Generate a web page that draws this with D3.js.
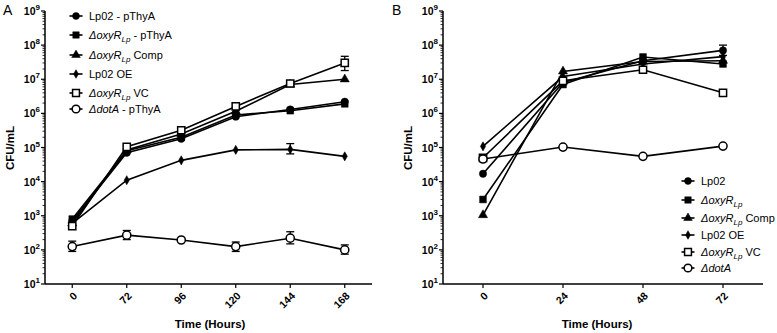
<!DOCTYPE html>
<html><head><meta charset="utf-8">
<script src="https://cdn.jsdelivr.net/npm/d3@7"></script>
<style>body{margin:0;background:#fff}svg{display:block;font-family:"Liberation Sans",Arial,sans-serif}</style>
</head><body>
<svg id="c" width="777" height="333"></svg>
<script>
// ---- data ----
const hoursA = ["0","72","96","120","144","168"];
const hoursB = ["0","24","48","72"];
const yExponents = [1,2,3,4,5,6,7,8,9];

const seriesNamesA = ["Lp02 - pThyA","ΔoxyR - pThyA","ΔoxyR Comp","Lp02 OE","ΔoxyR VC","ΔdotA - pThyA"];
const seriesNamesB = ["Lp02","ΔoxyR","ΔoxyR Comp","Lp02 OE","ΔoxyR VC","ΔdotA"];
const markerKinds = ["circle","square","triangle","diamond","openSquare","openCircle"];

const a_lp02   = [700, 7.0e4, 1.8e5, 8.0e5, 1.3e6, 2.2e6];
const a_oxyR   = [800, 8.0e4, 2.0e5, 9.0e5, 1.2e6, 1.9e6];
const a_comp   = [600, 8.5e4, 2.5e5, 1.15e6, 7.0e6, 1.0e7];
const a_oe     = [600, 1.1e4, 4.2e4, 8.5e4, 8.8e4, 5.5e4];
const a_vc     = [500, 1.05e5, 3.2e5, 1.6e6, 7.5e6, 3.0e7];
const a_dotA   = [125, 270, 195, 125, 220, 100];
const a_vc_err   = [null, null, null, null, null, [1.8e7, 4.7e7]];
const a_oe_err   = [null, null, null, null, [6.5e4, 1.3e5], null];
const a_dotA_err = [[90, 180], [200, 370], null, [90, 170], [150, 340], [75, 140]];

const b_lp02   = [1.7e4, 8.0e6, 3.5e7, 7.0e7];
const b_oxyR   = [3.0e3, 7.0e6, 4.5e7, 2.8e7];
const b_comp   = [1.05e3, 1.7e7, 3.3e7, 3.5e7];
const b_oe     = [1.08e5, 1.2e7, 2.8e7, 4.6e7];
const b_vc     = [5.0e4, 9.0e6, 1.9e7, 4.0e6];
const b_dotA   = [4.6e4, 1.03e5, 5.5e4, 1.1e5];
const b_lp02_err = [null, null, null, [5.0e7, 1.0e8]];

// ---- drawing ----
const svg = d3.select("#c");
const plotTop = 11, plotBottom = 284;
const y = d3.scaleLog().domain([10, 1e9]).range([plotBottom, plotTop]);

function symbolPath(kind, scale){
  const m = {circle:[d3.symbolCircle,42], square:[d3.symbolSquare,46], triangle:[d3.symbolTriangle,36],
             diamond:[d3.symbolDiamond,24], openSquare:[d3.symbolSquare,52], openCircle:[d3.symbolCircle,52]};
  const [t,s] = m[kind];
  return d3.symbol().type(t).size(s*(scale||1))();
}
function isOpen(k){return k==="openSquare"||k==="openCircle";}

function drawPanel(g, cats, x0, x1, series, errs, letter, letterX, xLabelX){
  const x = d3.scalePoint().domain(cats).range([x0, x1]).padding(0.5);
  g.append("line").attr("x1",x0).attr("x2",x0).attr("y1",plotTop).attr("y2",plotBottom).attr("stroke","#000").attr("stroke-width",1.5);
  g.append("line").attr("x1",x0).attr("x2",x1).attr("y1",plotBottom).attr("y2",plotBottom).attr("stroke","#000").attr("stroke-width",1.5);
  yExponents.forEach(e=>{
    const yy = y(Math.pow(10,e));
    g.append("line").attr("x1",x0-4).attr("x2",x0).attr("y1",yy).attr("y2",yy).attr("stroke","#000").attr("stroke-width",1.2);
    if(e<9){ for(let k=2;k<10;k++){ const ym=y(k*Math.pow(10,e));
      g.append("line").attr("x1",x0-2.5).attr("x2",x0).attr("y1",ym).attr("y2",ym).attr("stroke","#000").attr("stroke-width",0.8);} }
    const t = g.append("text").attr("x",x0-5).attr("y",yy+4).attr("text-anchor","end")
      .attr("font-size",10.5).attr("font-weight","bold");
    t.append("tspan").text("10");
    t.append("tspan").attr("dy",-5).attr("font-size",8).text(e);
  });
  cats.forEach(c=>{
    const xx = x(c);
    g.append("line").attr("x1",xx).attr("x2",xx).attr("y1",plotBottom).attr("y2",plotBottom+4).attr("stroke","#000").attr("stroke-width",1.2);
    g.append("text").attr("transform",`translate(${xx+3},${plotBottom+10}) rotate(-45)`).attr("text-anchor","end")
      .attr("font-size",10.5).attr("font-weight","bold").attr("dy","0.35em").text(c);
  });
  g.append("text").attr("x",xLabelX).attr("y",328).attr("text-anchor","middle").attr("font-size",11.5).attr("font-weight","bold").text("Time (Hours)");
  g.append("text").attr("transform",`translate(${x0-31},148) rotate(-90)`).attr("text-anchor","middle").attr("font-size",11.5).attr("font-weight","bold").text("CFU/mL");
  g.append("text").attr("x",letterX).attr("y",15).attr("font-size",14).text(letter);

  const line = d3.line().x((d,i)=>x(cats[i])).y(d=>y(d));
  series.forEach(s=>{
    g.append("path").attr("d",line(s.values)).attr("fill","none").attr("stroke","#000").attr("stroke-width",1.6);
  });
  errs.forEach(er=>{
    er.err.forEach((r,i)=>{ if(!r) return; const xx=x(cats[i]);
      g.append("line").attr("x1",xx).attr("x2",xx).attr("y1",y(r[0])).attr("y2",y(r[1])).attr("stroke","#000").attr("stroke-width",1.3);
      [r[0],r[1]].forEach(v=>g.append("line").attr("x1",xx-4).attr("x2",xx+4).attr("y1",y(v)).attr("y2",y(v)).attr("stroke","#000").attr("stroke-width",1.3));
    });
  });
  series.forEach(s=>{
    s.values.forEach((v,i)=>{
      g.append("path").attr("d",symbolPath(s.kind)).attr("transform",`translate(${x(cats[i])},${y(v)})`)
        .attr("fill",isOpen(s.kind)?"#fff":"#000").attr("stroke","#000").attr("stroke-width",isOpen(s.kind)?1.5:0.5);
    });
  });
}

function legendLabel(t, name){
  if(name.startsWith("ΔoxyR")){
    t.append("tspan").attr("font-style","italic").text("ΔoxyR");
    t.append("tspan").attr("font-style","italic").attr("font-size",8).attr("dy",3).text("Lp");
    t.append("tspan").attr("dy",-3).text(name.slice(5));
  } else if(name.startsWith("ΔdotA")){
    t.append("tspan").attr("font-style","italic").text("ΔdotA");
    t.append("tspan").text(name.slice(5));
  } else t.text(name);
}
function drawLegend(g, names, mx, ys){
  names.forEach((n,i)=>{
    const yy = ys[i], k = markerKinds[i];
    g.append("line").attr("x1",mx-6.5).attr("x2",mx+6.5).attr("y1",yy).attr("y2",yy).attr("stroke","#000").attr("stroke-width",1.6);
    g.append("path").attr("d",symbolPath(k,0.9)).attr("transform",`translate(${mx},${yy})`)
      .attr("fill",isOpen(k)?"#fff":"#000").attr("stroke","#000").attr("stroke-width",isOpen(k)?1.5:0.5);
    const t = g.append("text").attr("x",mx+13).attr("y",yy+4).attr("font-size",11);
    legendLabel(t,n);
  });
}

const gA = svg.append("g");
const seriesA = [a_lp02,a_oxyR,a_comp,a_oe,a_vc,a_dotA].map((v,i)=>({values:v,kind:markerKinds[i]}));
drawPanel(gA, hoursA, 45, 372, seriesA,
  [{err:a_vc_err},{err:a_oe_err},{err:a_dotA_err}], "A", 3, 210);
drawLegend(gA, seriesNamesA, 76, [16,35,55,74,93,109]);

const gB = svg.append("g");
const seriesB = [b_lp02,b_oxyR,b_comp,b_oe,b_vc,b_dotA].map((v,i)=>({values:v,kind:markerKinds[i]}));
drawPanel(gB, hoursB, 443, 763, seriesB, [{err:b_lp02_err}], "B", 392, 597);
drawLegend(gB, seriesNamesB, 688, [181,200,218,235,252,268]);
</script>
</body></html>
